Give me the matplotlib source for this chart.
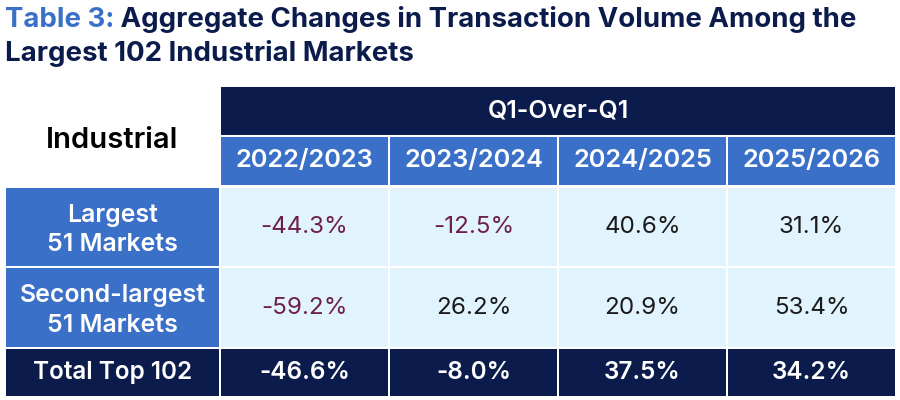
import matplotlib
matplotlib.use('Agg')
import matplotlib.pyplot as plt
from matplotlib.patches import Rectangle

plt.rcParams['font.family'] = ['Inter', 'DejaVu Sans']

# data
title_lead = "Table 3:"
title_rest = " Aggregate Changes in Transaction Volume Among the"
title_line2 = "Largest 102 Industrial Markets"
corner_label = "Industrial"
group_label = "Q1-Over-Q1"
periods = ["2022/2023", "2023/2024", "2024/2025", "2025/2026"]
row_labels = ["Largest\n51 Markets", "Second-largest\n51 Markets", "Total Top 102"]
largest_51 = [-44.3, -12.5, 40.6, 31.1]
second_51 = [-59.2, 26.2, 20.9, 53.4]
total_102 = [-46.6, -8.0, 37.5, 34.2]

NAVY = '#0b1c4c'
BLUE = '#3a70c8'
LIGHT = '#e1f3fd'
NEG = '#6e1f45'
INK = '#1a1a1a'

fig = plt.figure(figsize=(9, 4), dpi=100)
ax = fig.add_axes([0, 0, 1, 1])
ax.set_xlim(0, 900)
ax.set_ylim(400, 0)
ax.axis('off')

# title
t = ax.text(5, 27, title_lead, color=BLUE, fontsize=19.9, fontweight='bold', va='baseline')
fig.canvas.draw()
bb = t.get_window_extent()
inv = ax.transData.inverted()
x_end = inv.transform((bb.x1, bb.y0))[0]
ax.text(x_end, 27, title_rest, color=NAVY, fontsize=19.9, fontweight='bold', va='baseline')
ax.text(5, 61, title_line2, color=NAVY, fontsize=19.9, fontweight='bold', va='baseline')

# layout
left_col = (6, 219)
cols = [(221, 388), (390, 557), (559, 726), (728, 895)]
hdr1 = (87, 135)
hdr2 = (137, 185)
rows = [(188, 266), (268, 347), (349, 396)]


def cell(x, y, color):
    ax.add_patch(Rectangle((x[0], y[0]), x[1] - x[0], y[1] - y[0], facecolor=color, edgecolor='none'))


def label(x, y, s, color, size, weight, ls=1.25, dy=0):
    ax.text((x[0] + x[1]) / 2, (y[0] + y[1]) / 2 + dy, s, color=color, fontsize=size, fontweight=weight,
            ha='center', va='center', linespacing=ls)


# header
cell((cols[0][0], cols[-1][1]), hdr1, NAVY)
label((cols[0][0], cols[-1][1]), hdr1, group_label, 'white', 18, 'semibold')
label(left_col, (hdr1[0], hdr2[1]), corner_label, 'black', 21, 'semibold', dy=4)
for c, p in zip(cols, periods):
    cell(c, hdr2, BLUE)
    label(c, hdr2, p, 'white', 18.3, 'semibold')

# body
series = [largest_51, second_51, total_102]
for i, (r, name, vals) in enumerate(zip(rows, row_labels, series)):
    is_total = i == len(rows) - 1
    cell(left_col, r, NAVY if is_total else BLUE)
    if is_total:
        label(left_col, r, name, 'white', 17.5, 'semibold')
    else:
        label(left_col, r, name, 'white', 17.9, 'semibold', ls=1.35, dy=3)
    for c, v in zip(cols, vals):
        txt = f"{v:.1f}%"
        if is_total:
            cell(c, r, NAVY)
            label(c, r, txt, 'white', 17.5, 'semibold')
        else:
            cell(c, r, LIGHT)
            label(c, r, txt, NEG if v < 0 else INK, 17.4, 'normal')

fig.savefig('out.png', dpi=100)
